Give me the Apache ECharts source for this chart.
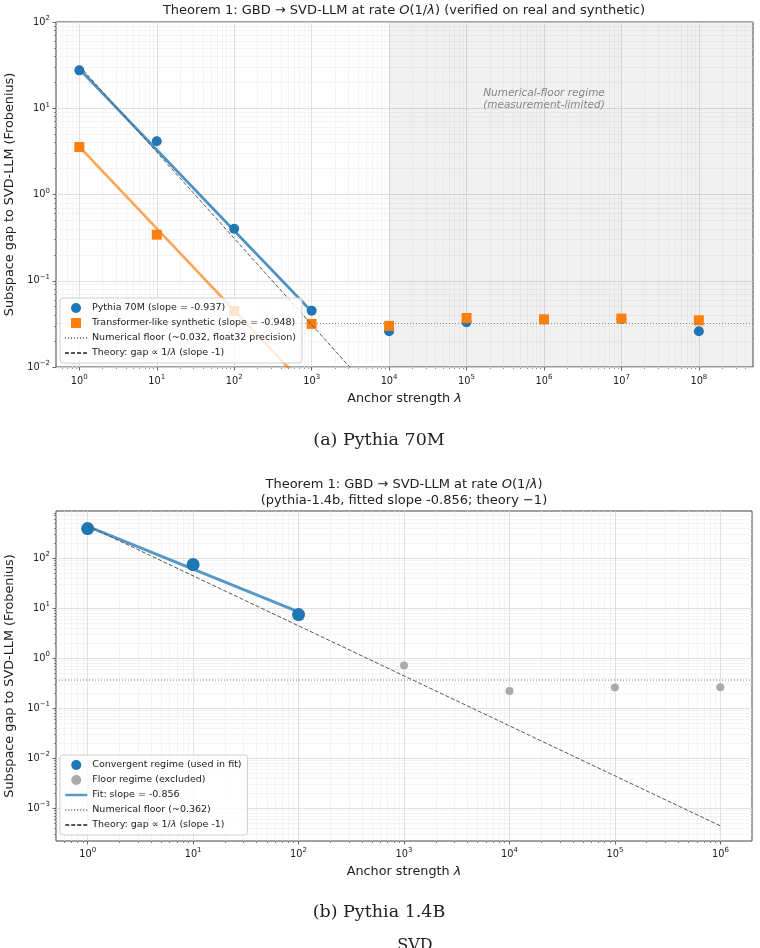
<!DOCTYPE html>
<html lang="en">
<head>
<meta charset="UTF-8">
<title>Theorem 1: GBD to SVD-LLM</title>
<style>
    html, body { margin: 0; padding: 0; background: #fff; }
    #main { width: 760px; height: 948px; }
</style>
<script src="https://cdn.jsdelivr.net/npm/echarts@6/dist/echarts.min.js"></script>
</head>
<body>
<div id="main"></div>
<script>
    // (a) Pythia 70M
    var lambdaA = [1, 10, 100, 1e3, 1e4, 1e5, 1e6, 1e7, 1e8];
    var pythia70m = [27.5, 4.15, 0.40, 0.045, 0.026, 0.033, 0.0355, 0.036, 0.026];
    var synthetic = [3.55, 0.342, 0.0446, 0.0316, 0.030, 0.037, 0.0357, 0.0365, 0.0348];
    var fitAx = [1, 1000];
    var fitApythia = [28.5, 0.044];
    var fitAsynth = [3.6, 0.0051];
    var theoryAx = [1, 1e8];
    var theoryAy = [31, 3.1e-7];
    var floorA = 0.032;
    var floorRegimeA = [1e4, 5e8];
    var rangeAx = [0.5, 5e8];
    var rangeAy = [0.01, 100];
    var ticksAx = [0, 1, 2, 3, 4, 5, 6, 7, 8];      // powers of ten
    var ticksAy = [-2, -1, 0, 1, 2];

    // (b) Pythia 1.4B
    var lambdaConv = [1, 10, 100];
    var convB = [387, 73.8, 7.4];
    var lambdaFloor = [1e3, 1e4, 1e5, 1e6];
    var floorPtsB = [0.71, 0.219, 0.256, 0.26];
    var fitBx = [1, 100];
    var fitBy = [431, 8.4];
    var theoryBx = [1, 1e6];
    var theoryBy = [440, 4.4e-4];
    var floorB = 0.362;
    var rangeBx = [0.501, 1.995e6];
    var rangeBy = [2.19e-4, 871];
    var ticksBx = [0, 1, 2, 3, 4, 5, 6];
    var ticksBy = [-3, -2, -1, 0, 1, 2];

    var lg = Math.log10;
    function pts(xs, ys) {
        return xs.map(function (x, i) { return [lg(x), lg(ys[i])]; });
    }
    function hline(range, y) {
        return [[lg(range[0]), lg(y)], [lg(range[1]), lg(y)]];
    }
    // log10 positions of 2..9 x 10^n inside the range
    function minorTicks(range) {
        var lo = lg(range[0]), hi = lg(range[1]), out = [];
        for (var n = Math.floor(lo) - 1; n <= Math.ceil(hi); n++) {
            for (var k = 2; k <= 9; k++) {
                var v = n + lg(k);
                if (v > lo + 1e-6 && v < hi - 1e-6) out.push(v);
            }
        }
        return out;
    }

    var INK = '#222';
    var SPINE = '#444';
    var FONT = 'DejaVu Sans';
    var C_BLUE = '#1f77b4', C_ORANGE = '#ff7f0e';
    var FIT_BLUE = 'rgba(31,119,180,0.75)';

    function powLabel(v) {
        var e = Math.round(v);
        return '{b|10}{s|' + (e < 0 ? '\u2212' + (-e) : e) + '}';
    }
    var labelRich = {
        b: {fontSize: 9.8, color: INK, lineHeight: 14, fontFamily: FONT},
        s: {fontSize: 7, color: INK, lineHeight: 9, verticalAlign: 'top', fontFamily: FONT}
    };

    function majorAxis(dim, grid, range, ticks, name, gap, margin) {
        return {
            type: 'value', gridIndex: grid, z: 1,
            min: lg(range[0]), max: lg(range[1]),
            position: dim === 'x' ? 'bottom' : 'left',
            axisLine: {show: false, onZero: false},
            axisTick: {show: true, customValues: ticks, length: 3.5, lineStyle: {color: SPINE, width: 0.8}},
            axisLabel: {show: true, customValues: ticks, formatter: powLabel, rich: labelRich, margin: margin},
            splitLine: {show: true, lineStyle: {color: '#d9d9d9', width: 0.8}},
            name: name, nameLocation: 'middle', nameGap: gap,
            nameTextStyle: {fontSize: 12.8, color: INK, fontFamily: FONT,
                rich: {i: {fontSize: 12.8, fontStyle: 'italic', color: INK, fontFamily: FONT}}}
        };
    }
    function minorAxis(dim, grid, range) {
        return {
            type: 'value', gridIndex: grid, z: 0,
            min: lg(range[0]), max: lg(range[1]),
            position: dim === 'x' ? 'bottom' : 'left',
            axisLine: {show: false, onZero: false},
            axisTick: {show: true, customValues: minorTicks(range), length: 2, lineStyle: {color: SPINE, width: 0.6}},
            axisLabel: {show: false},
            splitLine: {show: true, lineStyle: {color: '#ececec', width: 0.6}}
        };
    }

    var theoryName = 'Theory: gap \u221d 1/\u03bb (slope -1)';
    var namesA = ['Pythia 70M (slope = -0.937)', 'Transformer-like synthetic (slope = -0.948)',
        'Numerical floor (~0.032, float32 precision)', theoryName];
    var namesB = ['Convergent regime (used in fit)', 'Floor regime (excluded)',
        'Fit: slope = -0.856', 'Numerical floor (~0.362)', theoryName];

    var SQUARE = 'path://M0,0L10,0L10,10L0,10Z';
    var NO_MARK = {color: 'rgba(0,0,0,0)', borderColor: 'rgba(0,0,0,0)', borderWidth: 0};
    function lineItem(n, ls) {
        var item = {name: n, itemStyle: NO_MARK};
        if (ls) item.lineStyle = ls;
        return item;
    }

    function legendBox(items, top) {
        return {
            data: items, orient: 'vertical', left: 60, top: top,
            itemWidth: 22, itemHeight: 10, itemGap: 5, padding: [5, 6, 5, 4],
            symbolKeepAspect: true,
            backgroundColor: 'rgba(255,255,255,0.8)', borderColor: '#d0d0d0', borderWidth: 1, borderRadius: 3,
            selectedMode: false,
            textStyle: {fontSize: 9.5, color: INK, fontFamily: FONT,
                rich: {i: {fontSize: 9.5, fontStyle: 'italic', color: INK, fontFamily: FONT}}},
            formatter: function (n) { return n.replace('\u03bb', '{i|\u03bb}'); }
        };
    }

    var titleRich = {i: {fontSize: 13, fontStyle: 'italic', color: INK, fontFamily: FONT, lineHeight: 16}};

    var myChart = echarts.init(document.getElementById('main'), null, {renderer: 'canvas'});
    var option = {
        animation: false,
        textStyle: {fontFamily: FONT},
        title: [{
            text: 'Theorem 1: GBD \u2192 SVD-LLM at rate {i|O}(1/{i|\u03bb}) (verified on real and synthetic)',
            left: 404, top: 3, textAlign: 'center', padding: 0,
            textStyle: {fontSize: 13, fontWeight: 'normal', color: INK, fontFamily: FONT, lineHeight: 16, rich: titleRich}
        }, {
            text: 'Theorem 1: GBD \u2192 SVD-LLM at rate {i|O}(1/{i|\u03bb})\n(pythia-1.4b, fitted slope -0.856; theory \u22121)',
            left: 404, top: 477, textAlign: 'center', padding: 0,
            textStyle: {fontSize: 13, fontWeight: 'normal', color: INK, fontFamily: FONT, lineHeight: 16, rich: titleRich}
        }],
        grid: [
            {left: 56, top: 22, width: 697, height: 345, show: true, borderColor: SPINE, borderWidth: 1,
                backgroundColor: 'transparent', outerBoundsMode: 'none'},
            {left: 56, top: 511, width: 696, height: 330, show: true, borderColor: SPINE, borderWidth: 1,
                backgroundColor: 'transparent', outerBoundsMode: 'none'}
        ],
        xAxis: [
            majorAxis('x', 0, rangeAx, ticksAx, 'Anchor strength {i|\u03bb}', 25, 7),
            minorAxis('x', 0, rangeAx),
            majorAxis('x', 1, rangeBx, ticksBx, 'Anchor strength {i|\u03bb}', 24, 6),
            minorAxis('x', 1, rangeBx)
        ],
        yAxis: [
            majorAxis('y', 0, rangeAy, ticksAy, 'Subspace gap to SVD-LLM (Frobenius)', 36, 6),
            minorAxis('y', 0, rangeAy),
            majorAxis('y', 1, rangeBy, ticksBy, 'Subspace gap to SVD-LLM (Frobenius)', 36, 6),
            minorAxis('y', 1, rangeBy)
        ],
        legend: [
            legendBox([namesA[0], {name: namesA[1], icon: SQUARE}, lineItem(namesA[2]), lineItem(namesA[3])], 298),
            legendBox([namesB[0], namesB[1], lineItem(namesB[2], {width: 2.5, color: FIT_BLUE}),
                lineItem(namesB[3]), lineItem(namesB[4])], 755)
        ],
        series: [
            // ---- (a) ----
            {
                name: namesA[2], type: 'line', xAxisIndex: 0, yAxisIndex: 0,
                data: hline(rangeAx, floorA), symbol: 'none', silent: true,
                itemStyle: {color: '#808080'},
                lineStyle: {color: '#808080', width: 1, type: [1, 2]},
                markArea: {
                    silent: true, itemStyle: {color: 'rgba(0,0,0,0.055)'},
                    data: [[{xAxis: lg(floorRegimeA[0])}, {xAxis: lg(floorRegimeA[1])}]]
                },
                markPoint: {
                    silent: true, symbol: 'circle', symbolSize: 1, itemStyle: {color: 'rgba(0,0,0,0)'},
                    data: [{coord: [6, 1.107]}],
                    label: {show: true, position: 'inside', formatter: 'Numerical-floor regime\n(measurement-limited)',
                        fontSize: 10.5, lineHeight: 12, fontStyle: 'italic', color: '#858585', fontFamily: FONT}
                }
            },
            {
                name: 'fitA1', type: 'line', xAxisIndex: 0, yAxisIndex: 0, data: pts(fitAx, fitApythia),
                symbol: 'none', silent: true, lineStyle: {color: 'rgba(31,119,180,0.8)', width: 2.6}
            },
            {
                name: 'fitA2', type: 'line', xAxisIndex: 0, yAxisIndex: 0, data: pts(fitAx, fitAsynth),
                symbol: 'none', silent: true, lineStyle: {color: 'rgba(255,127,14,0.7)', width: 2.6}
            },
            {
                name: theoryName, type: 'line', xAxisIndex: 0, yAxisIndex: 0, data: pts(theoryAx, theoryAy),
                symbol: 'none', silent: true, itemStyle: {color: '#555'},
                lineStyle: {color: '#555', width: 1, type: [4, 2]}
            },
            {
                name: namesA[0], type: 'scatter', xAxisIndex: 0, yAxisIndex: 0, data: pts(lambdaA, pythia70m),
                symbol: 'circle', symbolSize: 10, itemStyle: {color: C_BLUE, opacity: 1}
            },
            {
                name: namesA[1], type: 'scatter', xAxisIndex: 0, yAxisIndex: 0, data: pts(lambdaA, synthetic),
                symbol: 'rect', symbolSize: 10, itemStyle: {color: C_ORANGE, opacity: 1}
            },
            // ---- (b) ----
            {
                name: namesB[3], type: 'line', xAxisIndex: 2, yAxisIndex: 2,
                data: hline(rangeBx, floorB), symbol: 'none', silent: true,
                itemStyle: {color: '#808080'},
                lineStyle: {color: '#808080', width: 1, type: [1, 2]}
            },
            {
                name: namesB[2], type: 'line', xAxisIndex: 2, yAxisIndex: 2, data: pts(fitBx, fitBy),
                symbol: 'none', silent: true, itemStyle: {color: FIT_BLUE},
                lineStyle: {color: FIT_BLUE, width: 3}
            },
            {
                name: theoryName, type: 'line', xAxisIndex: 2, yAxisIndex: 2, data: pts(theoryBx, theoryBy),
                symbol: 'none', silent: true, itemStyle: {color: '#555'},
                lineStyle: {color: '#555', width: 1, type: [4, 2]}
            },
            {
                name: namesB[0], type: 'scatter', xAxisIndex: 2, yAxisIndex: 2, data: pts(lambdaConv, convB),
                symbol: 'circle', symbolSize: 13, itemStyle: {color: C_BLUE, opacity: 1}
            },
            {
                name: namesB[1], type: 'scatter', xAxisIndex: 2, yAxisIndex: 2, data: pts(lambdaFloor, floorPtsB),
                symbol: 'circle', symbolSize: 8, itemStyle: {color: '#aaaaaa', opacity: 1}
            }
        ],
        graphic: [
            {type: 'text', x: 379, y: 440, style: {text: '(a) Pythia 70M', fontSize: 17.5, fontFamily: 'DejaVu Serif',
                fill: INK, align: 'center', verticalAlign: 'middle'}},
            {type: 'text', x: 379, y: 912, style: {text: '(b) Pythia 1.4B', fontSize: 17.5, fontFamily: 'DejaVu Serif',
                fill: INK, align: 'center', verticalAlign: 'middle'}},
            {type: 'text', x: 415, y: 938, style: {text: 'SVD', fontSize: 16, fontFamily: 'DejaVu Serif',
                fill: INK, align: 'center', verticalAlign: 'top'}}
        ]
    };
    myChart.setOption(option);
</script>
</body>
</html>
